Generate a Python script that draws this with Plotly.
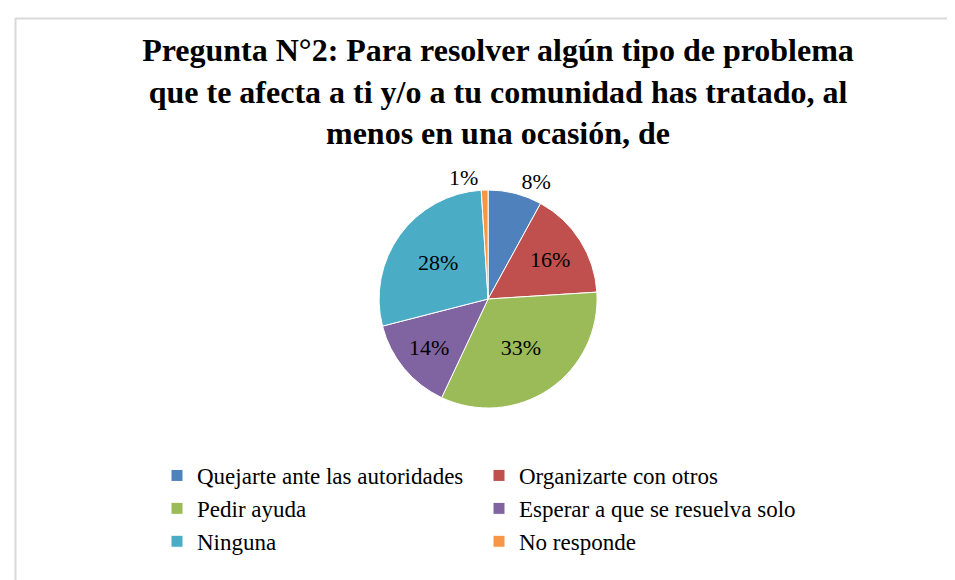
import plotly.graph_objects as go

categories = ["Quejarte ante las autoridades", "Organizarte con otros", "Pedir ayuda",
              "Esperar a que se resuelva solo", "Ninguna", "No responde"]
values = [8, 16, 33, 14, 28, 1]
colors = ["#4F81BD", "#C0504D", "#9BBB59", "#8064A2", "#4BACC6", "#F79646"]
text_positions = ["outside", "inside", "inside", "inside", "inside", "outside"]

title_text = ("<b>Pregunta N°2: Para resolver algún tipo de problema<br>"
              "que te afecta a ti y/o a tu comunidad has tratado, al<br>"
              "menos en una ocasión, de</b>")

W, H = 955, 580

fig = go.Figure(go.Pie(
    labels=categories,
    values=values,
    sort=False,
    direction="clockwise",
    rotation=0,
    marker=dict(colors=colors, line=dict(color="#FFFFFF", width=1)),
    texttemplate="%{percent:.0%}",
    textposition=text_positions,
    textfont=dict(family="Liberation Serif", size=22, color="#000000"),
    insidetextorientation="horizontal",
    domain=dict(x=[0.2727, 0.7327], y=[1 - 400 / H, 1 - 182 / H]),
    hoverinfo="label+percent",
))

fig.update_layout(
    width=W, height=H,
    margin=dict(l=0, r=0, t=0, b=0, autoexpand=False),
    paper_bgcolor="#FFFFFF",
    plot_bgcolor="#FFFFFF",
    font=dict(family="Liberation Serif", color="#000000"),
    title=dict(text=title_text, x=490 / W, xanchor="center",
               y=1 - 53 / H, yanchor="top", yref="container",
               font=dict(family="Liberation Serif", size=32, color="#000000")),
    legend=dict(orientation="h", x=149 / W, xanchor="left",
                y=1 - 446 / H, yanchor="top",
                entrywidth=277, entrywidthmode="pixels",
                font=dict(family="Liberation Serif", size=23, color="#000000"),
                itemwidth=30, traceorder="normal"),
    shapes=[
        dict(type="line", xref="paper", yref="paper", x0=7.5 / W, x1=7.5 / W,
             y0=0, y1=1 - 10 / H, line=dict(color="#D9D9D9", width=2)),
        dict(type="line", xref="paper", yref="paper", x0=7.5 / W, x1=1,
             y0=1 - 10.5 / H, y1=1 - 10.5 / H, line=dict(color="#D9D9D9", width=2)),
    ],
)

fig.write_html("out.html")
